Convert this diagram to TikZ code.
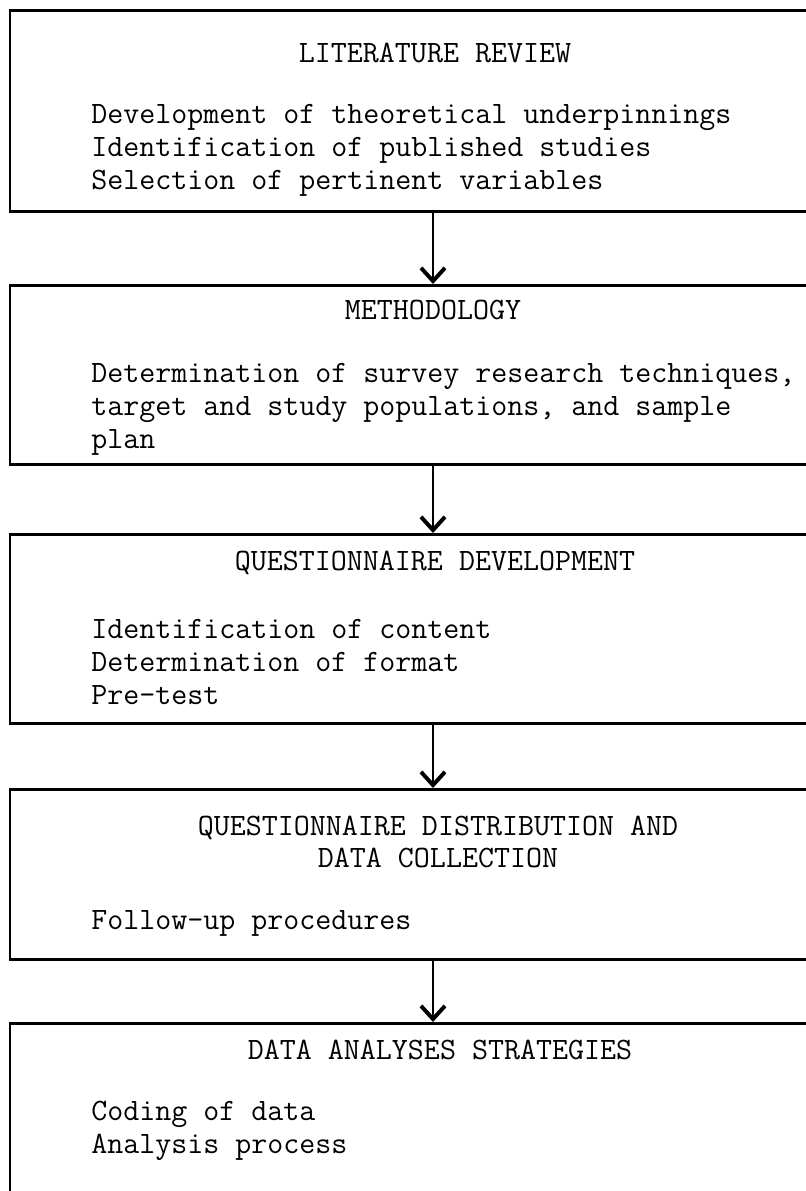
\documentclass[tikz,border=0pt]{standalone}
\usetikzlibrary{arrows.meta}
\begin{document}
\begin{tikzpicture}[x=0.025cm, y=-0.025cm,
  every node/.style={font=\ttfamily\fontsize{22.1}{23.4}\selectfont},
  stage/.style={draw, line width=1.9pt, minimum width=21.15cm, anchor=north, inner sep=0pt},
  item/.style={anchor=west, align=left, inner sep=0pt},
  flow/.style={line width=1.3pt, -{Straight Barb[length=0.33cm,width=0.6cm,line width=2.8pt]}}]
\useasboundingbox (0,0) rectangle (806,1191);
% the five stages
\node[stage, minimum height=5.025cm] (lit) at (433,9) {};
\node[stage, minimum height=4.475cm] (meth) at (433,284) {};
\node[stage, minimum height=4.725cm] (qdev) at (433,533) {};
\node[stage, minimum height=4.25cm] (qdist) at (433,788) {};
\node[stage, minimum height=5.5cm] (anal) at (433,1022) {};
% titles
\node (littitle) at (435,53) {LITERATURE REVIEW};
\node (methtitle) at (433,310) {METHODOLOGY};
\node (qdevtitle) at (435,563) {QUESTIONNAIRE DEVELOPMENT};
\node[align=center] (qdisttitle) at (438,842) {QUESTIONNAIRE DISTRIBUTION AND\\DATA COLLECTION};
\node (analtitle) at (440,1050) {DATA ANALYSES STRATEGIES};
% contents
\node[item] (littext) at (91,150) {Development of theoretical underpinnings\\Identification of published studies\\Selection of pertinent variables};
\node[item] (methtext) at (91,409) {Determination of survey research techniques,\\target and study populations, and sample\\plan};
\node[item] (qdevtext) at (91,662) {Identification of content\\Determination of format\\Pre-test};
\node[item] (qdisttext) at (91,923) {Follow-up procedures};
\node[item] (analtext) at (91,1131) {Coding of data\\Analysis process};
% arrows
\draw[flow] (lit) -- (meth);
\draw[flow] (meth) -- (qdev);
\draw[flow] (qdev) -- (qdist);
\draw[flow] (qdist) -- (anal);
\end{tikzpicture}
\end{document}
